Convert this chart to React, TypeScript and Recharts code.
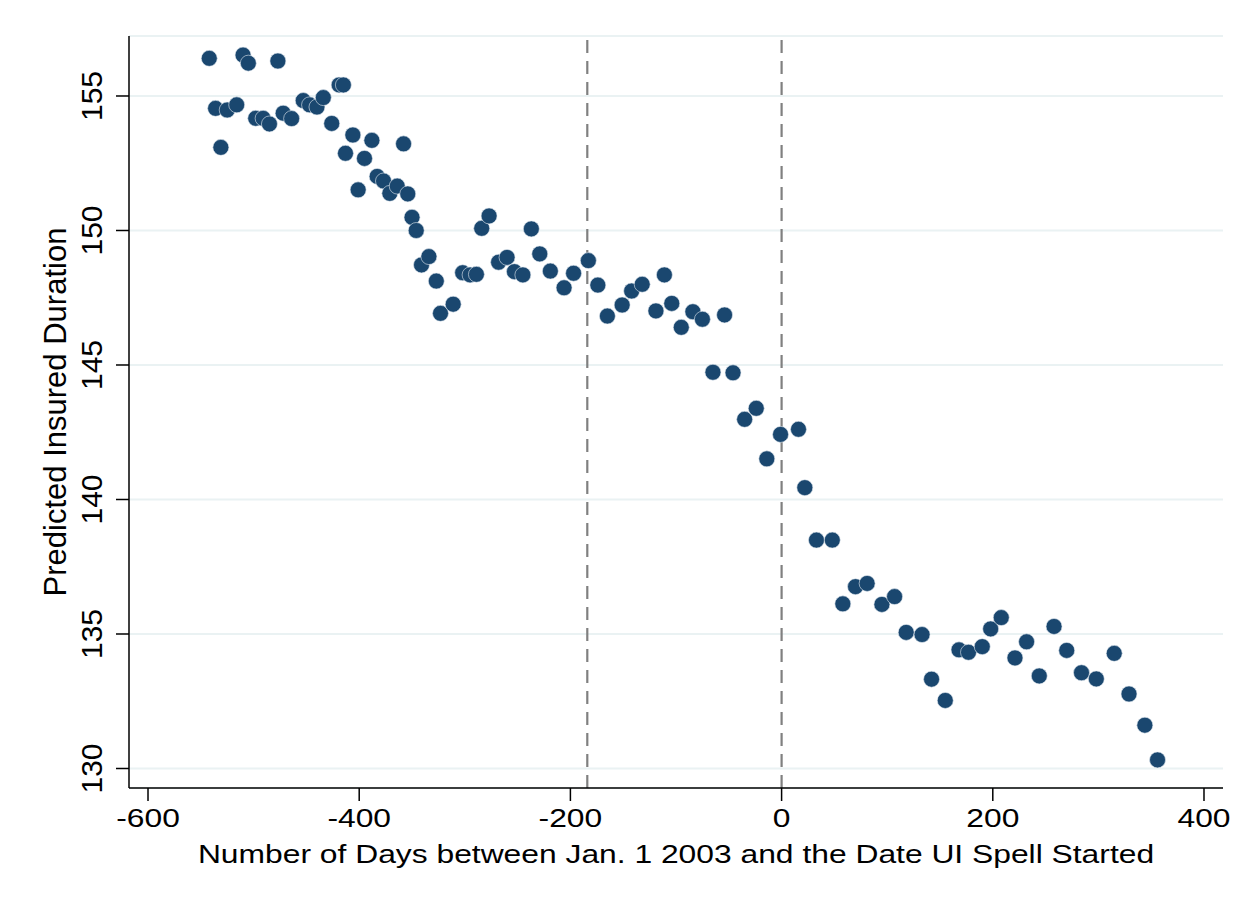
import { CartesianGrid, ReferenceLine, Scatter, ScatterChart, XAxis, YAxis } from 'recharts'

const days = [
    -542, -536, -531, -525, -516, -510, -505, -498, -491, -485,
    -477, -472, -464, -453, -447, -440, -434, -426, -419, -415,
    -413, -406, -401, -395, -388, -383, -377, -371, -364, -358,
    -354, -350, -346, -341, -334, -327, -323, -311, -302, -295,
    -289, -284, -277, -268, -260, -253, -245, -237, -229, -219,
    -206, -197, -183, -174, -165, -151, -142, -132, -119, -111,
    -104, -95, -84, -75, -65, -54, -46, -35, -24, -14,
    -1, 16, 22, 33, 48, 58, 70, 81, 95, 107,
    118, 133, 142, 155, 168, 177, 190, 198, 208, 221,
    232, 244, 258, 270, 284, 298, 315, 329, 344, 356,
]

const predictedDuration = [
    156.4, 154.54, 153.09, 154.48, 154.67, 156.52, 156.22, 154.17, 154.17, 153.96,
    156.3, 154.36, 154.16, 154.83, 154.67, 154.59, 154.94, 153.98, 155.41, 155.41,
    152.87, 153.55, 151.51, 152.68, 153.35, 152.01, 151.84, 151.38, 151.65, 153.22,
    151.36, 150.49, 150.0, 148.72, 149.03, 148.12, 146.92, 147.26, 148.43, 148.35,
    148.37, 150.08, 150.54, 148.82, 149.0, 148.47, 148.35, 150.06, 149.13, 148.49,
    147.87, 148.41, 148.88, 147.97, 146.82, 147.23, 147.75, 148.0, 147.01, 148.35,
    147.29, 146.4, 146.98, 146.7, 144.73, 146.86, 144.71, 142.98, 143.39, 141.51,
    142.42, 142.61, 140.44, 138.49, 138.49, 136.12, 136.76, 136.88, 136.1, 136.39,
    135.06, 134.98, 133.32, 132.53, 134.41, 134.32, 134.53, 135.19, 135.61, 134.11,
    134.71, 133.44, 135.28, 134.39, 133.56, 133.33, 134.28, 132.77, 131.61, 130.32,
]

const xTicks = [-600, -400, -200, 0, 200, 400]
const yTicks = [130, 135, 140, 145, 150, 155]
const cutoffDays = [-184, 0]

const FONT = '"Liberation Sans", Arial, Helvetica, sans-serif'
const NAVY = '#1a476f'

function XTick({ x, y, payload }: any) {
    return (
        <g transform={`translate(${x},${y}) scale(1.2,1)`}>
            <text textAnchor="middle" dy="0.71em" fontSize={26.5} fontFamily={FONT} fill="#000">
                {payload.value}
            </text>
        </g>
    )
}

function YTick({ x, y, payload }: any) {
    return (
        <text
            x={x}
            y={y}
            transform={`rotate(-90, ${x}, ${y})`}
            textAnchor="middle"
            fontSize={30}
            fontFamily={FONT}
            fill="#000"
        >
            {payload.value}
        </text>
    )
}

function Dot({ cx, cy }: any) {
    return <circle cx={cx} cy={cy} r={8} fill={NAVY} stroke="#e4ebf1" strokeWidth={0.6} />
}

export default function App() {
    const data = days.map((day, i) => ({ day, value: predictedDuration[i] }))

    return (
        <div style={{ position: 'absolute', left: 0, top: 0, width: 1252, height: 909, background: '#fff' }}>
            <ScatterChart width={1252} height={909} margin={{ top: 36, right: 29, left: 0, bottom: 0 }}>
                <CartesianGrid vertical={false} stroke="#eaf2f3" strokeWidth={2} />
                <XAxis
                    type="number"
                    dataKey="day"
                    domain={[-618, 418]}
                    ticks={xTicks}
                    height={121}
                    tickSize={13}
                    tickMargin={7}
                    stroke="#000"
                    strokeWidth={1.5}
                    tick={<XTick />}
                    allowDataOverflow
                    label={{
                        content: ({ viewBox }: any) => (
                            <g transform={`translate(${viewBox.x + viewBox.width / 2},${viewBox.y + 75}) scale(1.2,1)`}>
                                <text textAnchor="middle" fontSize={26.5} fontFamily={FONT} fill="#000">
                                    Number of Days between Jan. 1 2003 and the Date UI Spell Started
                                </text>
                            </g>
                        ),
                    }}
                />
                <YAxis
                    type="number"
                    dataKey="value"
                    domain={[129.275, 157.23]}
                    ticks={yTicks}
                    width={129}
                    tickSize={13}
                    tickMargin={14}
                    stroke="#000"
                    strokeWidth={1.5}
                    tick={<YTick />}
                    allowDataOverflow
                    label={{
                        content: ({ viewBox }: any) => {
                            const cx = viewBox.x + 66
                            const cy = viewBox.y + viewBox.height / 2
                            return (
                                <text
                                    x={cx}
                                    y={cy}
                                    transform={`rotate(-90, ${cx}, ${cy})`}
                                    textAnchor="middle"
                                    fontSize={31}
                                    fontFamily={FONT}
                                    fill="#000"
                                >
                                    Predicted Insured Duration
                                </text>
                            )
                        },
                    }}
                />
                {cutoffDays.map((d) => (
                    <ReferenceLine key={d} x={d} stroke="#808080" strokeWidth={2.2} strokeDasharray="13 8" />
                ))}
                <Scatter data={data} shape={<Dot />} isAnimationActive={false} />
            </ScatterChart>
        </div>
    )
}
